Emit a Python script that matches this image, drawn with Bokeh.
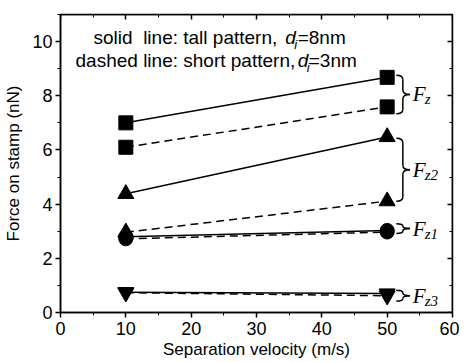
from bokeh.plotting import figure
from bokeh.models import LinearAxis, FixedTicker, Label, Range1d
from bokeh.embed import file_html
from bokeh.resources import INLINE

# ---------------- data ----------------
velocity = [10, 50]
fz_tall = [7.0, 8.68]
fz_short = [6.1, 7.59]
fz2_tall = [4.38, 6.48]
fz2_short = [2.96, 4.11]
fz1_tall = [2.80, 3.03]
fz1_short = [2.72, 2.97]
fz3_tall = [0.75, 0.70]
fz3_short = [0.73, 0.62]

x_ticks = [0, 10, 20, 30, 40, 50, 60]
x_minor = [5, 15, 25, 35, 45, 55]
y_ticks = [0, 2, 4, 6, 8, 10]
y_minor = [1, 3, 5, 7, 9, 11]

group_subscripts = ["z", "z2", "z1", "z3"]

x_label = "Separation velocity (m/s)"
y_label = "Force on stamp (nN)"
note1 = ("solid\u00a0 line: tall pattern,", "d", "i", "=8nm")
note2 = ("dashed line: short pattern,", "d", "i", "=3nm")

# ---------------- style ----------------
SANS = "Liberation Sans"
SERIF = "Liberation Serif"
LW = 1.5
DASH = "8 5"
X0, X1, Y0, Y1 = 0, 60, 0, 11

p = figure(width=459, height=362, output_backend="svg", toolbar_location=None,
           x_range=Range1d(X0, X1), y_range=Range1d(Y0, Y1),
           min_border_left=60, min_border_right=7, min_border_top=14,
           min_border_bottom=50, background_fill_color="white",
           border_fill_color="white")
p.grid.visible = False
p.outline_line_color = "black"
p.outline_line_width = LW

xt = FixedTicker(ticks=x_ticks, minor_ticks=x_minor)
yt = FixedTicker(ticks=y_ticks, minor_ticks=y_minor)

for ax in p.xaxis:
    ax.ticker = xt
    ax.axis_label = x_label
for ax in p.yaxis:
    ax.ticker = yt
    ax.axis_label = y_label

for ax in list(p.xaxis) + list(p.yaxis):
    ax.axis_line_width = LW
    ax.major_tick_line_width = LW
    ax.minor_tick_line_width = 1
    ax.major_tick_out = 5
    ax.major_tick_in = 0
    ax.minor_tick_out = 3
    ax.minor_tick_in = 0
    ax.major_label_text_font = SANS
    ax.major_label_text_font_size = "18px"
    ax.major_label_text_color = "black"
    ax.axis_label_text_font = SANS
    ax.axis_label_text_font_size = "17px"
    ax.axis_label_text_font_style = "normal"
    ax.axis_label_text_color = "black"
p.xaxis.major_label_standoff = 4
p.xaxis.axis_label_standoff = 2
p.yaxis.major_label_standoff = 3
p.yaxis.axis_label_standoff = 6

top = LinearAxis(ticker=xt, fixed_location=Y1, major_label_overrides={t: "" for t in x_ticks},
                 major_tick_in=5, major_tick_out=0, minor_tick_in=3, minor_tick_out=0,
                 axis_line_width=LW, major_tick_line_width=LW, major_label_standoff=0)
right = LinearAxis(ticker=yt, fixed_location=X1, major_label_overrides={t: "" for t in y_ticks},
                   major_tick_in=5, major_tick_out=0, minor_tick_in=3, minor_tick_out=0,
                   axis_line_width=LW, major_tick_line_width=LW, major_label_standoff=0)
p.add_layout(top, "above")
p.add_layout(right, "right")

# ---------------- lines & markers ----------------
series = [
    (fz_tall, "solid", "square", 14),
    (fz_short, DASH, "square", 14),
    (fz2_tall, "solid", "triangle", 16),
    (fz2_short, DASH, "triangle", 16),
    (fz1_tall, "solid", "circle", 14),
    (fz1_short, DASH, "circle", 14),
    (fz3_tall, "solid", "inverted_triangle", 16),
    (fz3_short, DASH, "inverted_triangle", 16),
]
for vals, dash, marker, size in series:
    p.line(velocity, vals, line_color="black", line_width=LW, line_dash=dash)
for vals, dash, marker, size in series:
    p.scatter(velocity, vals, marker=marker, size=size, fill_color="black",
              line_color="black")

# ---------------- braces ----------------
pairs = [(fz_tall, fz_short), (fz2_tall, fz2_short), (fz1_tall, fz1_short), (fz3_tall, fz3_short)]
pad_lo = [0.25, 0.0, 0.05, 0.2]
pad_hi = [0.08, -0.05, 0.25, 0.12]
XL, XM, XT, XF = 51.4, 52.4, 53.5, 53.9
px_per_y = 27.0
px_per_x = 6.53
qx0, qy0, qx1, qy1, qcx, qcy = [], [], [], [], [], []
sx0, sy0, sx1, sy1 = [], [], [], []
for (a, b), plo, phi, sub in zip(pairs, pad_lo, pad_hi, group_subscripts):
    lo = min(a[-1], b[-1]) - plo
    hi = max(a[-1], b[-1]) + phi
    mid = (lo + hi) / 2
    r = min(4.5 / px_per_y, (hi - lo) / 4)
    qx0.append(XL); qy0.append(hi); qx1.append(XM); qy1.append(hi - r); qcx.append(XM); qcy.append(hi)
    sx0.append(XM); sy0.append(hi - r); sx1.append(XM); sy1.append(mid + r)
    qx0.append(XM); qy0.append(mid + r); qx1.append(XT); qy1.append(mid); qcx.append(XM); qcy.append(mid)
    qx0.append(XT); qy0.append(mid); qx1.append(XM); qy1.append(mid - r); qcx.append(XM); qcy.append(mid)
    sx0.append(XM); sy0.append(mid - r); sx1.append(XM); sy1.append(lo + r)
    qx0.append(XM); qy0.append(lo + r); qx1.append(XL); qy1.append(lo); qcx.append(XM); qcy.append(lo)
    p.add_layout(Label(x=XF, y=mid, text="F", text_font=SERIF, text_font_style="italic",
                       text_font_size="21px", text_color="black", text_baseline="middle"))
    p.add_layout(Label(x=XF + 12 / px_per_x, y=mid - 5 / px_per_y, text=sub, text_font=SERIF,
                       text_font_style="italic", text_font_size="15px", text_color="black",
                       text_baseline="middle"))
p.quadratic(x0=qx0, y0=qy0, x1=qx1, y1=qy1, cx=qcx, cy=qcy, line_color="black", line_width=LW)
p.segment(x0=sx0, y0=sy0, x1=sx1, y1=sy1, line_color="black", line_width=LW)

# ---------------- notes ----------------
def note(parts, x0, xd, xrest, y):
    pre, d, i, rest = parts
    p.add_layout(Label(x=x0, y=y, text=pre, text_font=SANS, text_font_size="19px",
                       text_color="black", text_baseline="middle"))
    p.add_layout(Label(x=xd, y=y, text=d, text_font=SANS, text_font_style="italic",
                       text_font_size="19px", text_color="black", text_baseline="middle"))
    p.add_layout(Label(x=xd + 9 / px_per_x, y=y - 7 / px_per_y, text=i, text_font=SANS,
                       text_font_style="italic", text_font_size="13px", text_color="black",
                       text_baseline="middle"))
    p.add_layout(Label(x=xrest, y=y, text=rest, text_font=SANS, text_font_size="19px",
                       text_color="black", text_baseline="middle"))

note(note1, 5.05, 34.4, 36.3, 10.14)
note(note2, 2.3, 36.3, 38.0, 9.32)

open("out.html", "w").write(file_html(p, INLINE))
